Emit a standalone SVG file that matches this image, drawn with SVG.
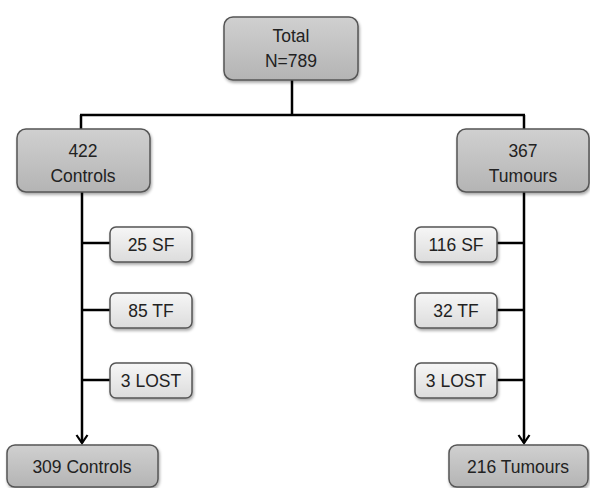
<svg xmlns="http://www.w3.org/2000/svg" width="590" height="488" viewBox="0 0 590 488">
<defs>
<linearGradient id="gMain" x1="0" y1="0" x2="0" y2="1">
<stop offset="0" stop-color="#d0d0d0"/><stop offset="1" stop-color="#b4b4b4"/>
</linearGradient>
<linearGradient id="gSmall" x1="0" y1="0" x2="0" y2="1">
<stop offset="0" stop-color="#f6f6f6"/><stop offset="1" stop-color="#dcdcdc"/>
</linearGradient>
<filter id="sh" x="-20%" y="-20%" width="140%" height="150%">
<feDropShadow dx="1" dy="2" stdDeviation="1.5" flood-color="#000" flood-opacity="0.35"/>
</filter>
<marker id="arr" markerWidth="14" markerHeight="14" refX="11" refY="7" orient="auto" markerUnits="userSpaceOnUse" viewBox="0 0 14 14">
<path d="M3,1.5 L11,7 L3,12.5" fill="none" stroke="#000" stroke-width="2.2"/>
</marker>
</defs>
<style>
.main{fill:url(#gMain);stroke:#555;stroke-width:1.5;filter:url(#sh)}
.small{fill:url(#gSmall);stroke:#555;stroke-width:1.5;filter:url(#sh)}
.t{font-family:"Liberation Sans",Arial,sans-serif;font-size:17.5px;fill:#222;text-anchor:middle}
.c{stroke:#000;stroke-width:2.5;fill:none}
</style>
<rect width="590" height="488" fill="#fff"/>
<g id="connectors">
<line class="c" x1="292" y1="80" x2="292" y2="115"/>
<line class="c" x1="80" y1="115" x2="525" y2="115"/>
<line class="c" x1="81" y1="115" x2="81" y2="129"/>
<line class="c" x1="524" y1="115" x2="524" y2="129"/>
<line class="c" x1="82" y1="192" x2="82" y2="443" marker-end="url(#arr)"/>
<line class="c" x1="524" y1="192" x2="524" y2="443" marker-end="url(#arr)"/>
<line class="c" x1="82" y1="243" x2="110" y2="243"/>
<line class="c" x1="82" y1="310" x2="110" y2="310"/>
<line class="c" x1="82" y1="380" x2="110" y2="380"/>
<line class="c" x1="497" y1="243" x2="524" y2="243"/>
<line class="c" x1="497" y1="310" x2="524" y2="310"/>
<line class="c" x1="497" y1="380" x2="524" y2="380"/>
</g>
<g id="total">
<rect class="main" x="224" y="17" width="134" height="63" rx="9"/>
<text class="t" x="291" y="42">Total</text>
<text class="t" x="291" y="67">N=789</text>
</g>
<g id="controls">
<rect class="main" x="17" y="129" width="133" height="63" rx="9"/>
<text class="t" x="83" y="157">422</text>
<text class="t" x="83" y="182">Controls</text>
</g>
<g id="tumours">
<rect class="main" x="457" y="129" width="132" height="63" rx="9"/>
<text class="t" x="523" y="157">367</text>
<text class="t" x="523" y="182">Tumours</text>
</g>
<g id="c_sf">
<rect class="small" x="110" y="227" width="82" height="35" rx="6"/>
<text class="t" x="151" y="251">25 SF</text>
</g>
<g id="c_tf">
<rect class="small" x="110" y="293" width="82" height="35" rx="6"/>
<text class="t" x="151" y="317">85 TF</text>
</g>
<g id="c_lost">
<rect class="small" x="110" y="363" width="82" height="35" rx="6"/>
<text class="t" x="151" y="387">3 LOST</text>
</g>
<g id="t_sf">
<rect class="small" x="415" y="227" width="82" height="35" rx="6"/>
<text class="t" x="456" y="251">116 SF</text>
</g>
<g id="t_tf">
<rect class="small" x="415" y="293" width="82" height="35" rx="6"/>
<text class="t" x="456" y="317">32 TF</text>
</g>
<g id="t_lost">
<rect class="small" x="415" y="363" width="82" height="35" rx="6"/>
<text class="t" x="456" y="387">3 LOST</text>
</g>
<g id="controls_final">
<rect class="main" x="7" y="445" width="151" height="42" rx="8"/>
<text class="t" x="82" y="473">309 Controls</text>
</g>
<g id="tumours_final">
<rect class="main" x="449" y="445" width="139" height="42" rx="8"/>
<text class="t" x="518" y="473">216 Tumours</text>
</g>
</svg>
